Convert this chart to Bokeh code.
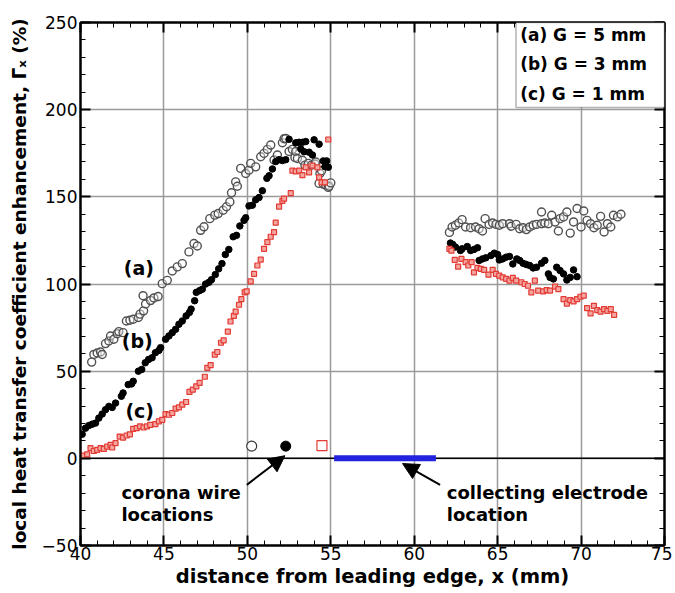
from bokeh.plotting import figure
from bokeh.models import (Range1d, SingleIntervalTicker, LinearAxis, Span, Arrow,
                          NormalHead, BoxAnnotation)
from bokeh.core.properties import value
from bokeh.embed import file_html
from bokeh.resources import INLINE

# ---------------- data ----------------
# (a) G = 5 mm : grey open circles
a_x = [40.67, 40.8, 41.0, 41.2, 41.3, 41.5, 41.7, 41.8, 42.0, 42.2, 42.3, 42.55, 42.75, 42.96, 43.16,
       43.47, 43.57, 43.78, 43.75, 43.9, 44.2, 44.4, 44.65, 44.9, 45.2, 45.5, 45.8, 46.1, 46.5, 46.8,
       47.0, 47.2, 47.4, 47.75, 48.05, 48.25, 48.55, 48.75, 48.95, 49.05, 49.3, 49.4, 49.6, 49.9, 50.1,
       50.2, 50.5, 50.8, 51.0, 51.2, 51.4, 51.6, 51.8, 52.1, 52.2, 52.3, 52.5, 52.7, 52.85, 52.9,
       53.0, 53.3, 53.45, 53.65, 53.85, 54.05, 54.1, 54.3, 54.35, 54.45, 54.55, 54.7, 54.85, 54.9, 55.0,
       62.11, 62.27, 62.47, 62.67, 62.87, 63.08, 63.38, 63.68, 63.89, 64.09, 64.25, 64.49, 64.70, 64.90,
       65.10, 65.30, 65.71, 65.81, 66.11, 66.32, 66.52, 66.72, 66.92, 67.13, 67.33, 67.63, 67.63, 67.83,
       68.04, 68.24, 68.44, 68.64, 68.74, 68.95, 69.15, 69.35, 69.55, 69.76, 70.0, 70.16, 70.36, 70.57,
       70.77, 70.97, 71.17, 71.38, 71.58, 71.78, 71.94, 72.19, 72.39]
a_y = [55.2, 59.6, 60.4, 61, 59.6, 65.8, 67.3, 70.2, 68.3, 71.5, 72.7, 72.1, 78.8, 79.2, 79.8,
       80.8, 82.7, 84.6, 93.3, 88.5, 90.5, 92, 92.8, 100.2, 102.1, 107.5, 109.8, 111.7, 118.4, 123.2,
       121.8, 130.8, 132.8, 137.5, 139.5, 140.4, 142.3, 144.3, 147.1, 152.3, 158.6, 156.1, 166.3, 163.4, 165.3,
       169.2, 167.2, 173, 174.9, 177.2, 179.7, 171.1, 174, 181, 183.3, 183.5, 176, 177.2, 172.6, 176,
       172, 171, 168.2, 169.2, 168.2, 168.8, 170, 157.7, 163.4, 165, 157.3, 156.7, 155.4, 156.1, 158,
       129.6, 132.7, 133.7, 135.0, 136.9, 132.7, 132.3, 132.7, 131.7, 130.4, 137.5, 134.2, 135.0, 134.2,
       133.7, 134.6, 134.6, 133.1, 134.2, 131.7, 132.3, 131.2, 132.7, 133.7, 134.2, 134.6, 141.3, 135.0,
       134.6, 139.4, 135.6, 130.4, 137.5, 138.5, 141.3, 129.2, 135.6, 143.3, 132.7, 141.9, 136.5, 134.6,
       132.3, 133.7, 138.8, 129.8, 134.6, 132.7, 139.4, 138.5, 140.0]

# (b) G = 3 mm : black filled circles
b_x = [40.1, 40.3, 40.5, 40.7, 40.9, 41.1, 41.3, 41.5, 41.7, 41.9, 42.1, 42.45, 42.55, 42.86, 43.06,
       43.16, 43.47, 43.67, 43.88, 44.08, 44.29, 44.49, 44.7, 44.8, 45.1, 45.3, 45.5, 45.7, 45.9, 46.1,
       46.33, 46.53, 46.63, 46.84, 46.94, 47.14, 47.3, 47.5, 47.7, 47.85, 48.08, 48.28, 48.48, 48.68, 48.89,
       49.15, 49.35, 49.55, 49.8, 49.9, 50.1, 50.3, 50.5, 50.7, 50.9, 51.17, 51.3, 51.5, 51.7, 51.9,
       52.1, 52.3, 52.5, 52.9, 53.1, 53.2, 53.3, 53.4, 53.5, 53.7, 53.9, 54.0, 54.3, 54.55, 54.65,
       54.75, 54.85,
       62.17, 62.31, 62.47, 62.77, 62.87, 63.18, 63.38, 63.58, 63.79, 63.89, 64.09, 64.29, 64.60, 64.80,
       65.0, 65.10, 65.30, 65.51, 65.71, 65.91, 66.15, 66.32, 66.52, 66.72, 66.92, 67.13, 67.33, 67.63,
       67.83, 68.04, 68.14, 68.34, 68.54, 68.74, 68.95, 69.15, 69.35, 69.55, 69.76]
b_y = [13.8, 17.3, 18.8, 19.6, 20.2, 23.1, 25.4, 27.9, 29.8, 29.2, 31.7, 35.6, 37.5, 42.3, 42.7,
       44.2, 50, 51, 54.8, 56.7, 57.7, 60.6, 61.9, 63.5, 68.3, 70.2, 72.1, 74, 76.9, 78.8,
       81.7, 83.7, 85.6, 90.4, 95.2, 96.2, 97, 100, 101, 102.5, 105.4, 108.7, 111.7, 116.9, 119.8,
       127.1, 127.9, 133.3, 136.5, 138, 144.8, 145.2, 148.3, 149.6, 153.5, 160.6, 162.1, 166, 170.2, 171.3,
       170.8, 171.3, 183, 181, 181.3, 177.5, 181.3, 175.9, 181.7, 175.6, 174, 182.7, 180.2, 170.6, 167.3,
       170.6, 167,
       123.5, 122.7, 121.2, 119.2, 120.2, 121.5, 119.2, 119.8, 120.8, 113.5, 114.4, 115.0, 116.3, 117.7,
       116.9, 113.8, 114.4, 115.4, 115.8, 111.5, 114.4, 113.5, 111.9, 111.2, 110.6, 109.2, 109.6, 111.9,
       113.5, 105.8, 103.8, 102.9, 109.6, 107.7, 105.8, 102.3, 103.8, 108.1, 104.2]

# (c) G = 1 mm : red squares
c_x = [40.2, 40.4, 40.6, 40.8, 41.0, 41.2, 41.4, 41.6, 41.8, 41.9, 42.1, 42.35, 42.55, 42.76, 42.96,
       43.16, 43.37, 43.57, 43.78, 43.98, 44.18, 44.49, 44.7, 44.9, 45.1, 45.3, 45.5, 45.7, 45.9, 46.1,
       46.33, 46.53, 46.73, 46.94, 47.14, 47.45, 47.6, 47.8, 48.05, 48.2, 48.42, 48.58, 48.83, 48.99, 49.19,
       49.3, 49.5, 49.64, 49.84, 49.96, 50.2, 50.4, 50.6, 50.8, 51.0, 51.2, 51.4, 51.6, 51.7, 51.9,
       52.1, 52.2, 52.6, 52.7, 52.9, 53.1, 53.3, 53.5, 53.7, 53.9, 54.2, 54.3, 54.45, 54.65, 54.85,
       62.11, 62.23, 62.43, 62.63, 62.83, 63.08, 63.24, 63.44, 63.58, 63.79, 63.99, 64.19, 64.45, 64.70,
       64.90, 65.10, 65.30, 65.51, 65.71, 65.91, 66.11, 66.42, 66.62, 66.82, 67.02, 67.23, 67.43, 67.73,
       67.94, 68.14, 68.44, 68.64, 68.95, 69.15, 69.35, 69.55, 69.76, 69.96, 70.16, 70.36, 70.57, 70.77,
       70.97, 71.17, 71.38, 71.58, 71.78, 71.98]
c_y = [1.5, 2.3, 5.8, 4.2, 4.8, 5.8, 5.4, 6.7, 7.7, 6.2, 8.7, 12.5, 11.9, 13.1, 13.8,
       16.9, 17.3, 18.3, 17.7, 18.3, 19.2, 19.6, 21.2, 22.1, 25.4, 25, 26, 28.5, 29.2, 30.8,
       32.3, 38.1, 39.4, 41.3, 43.3, 46.8, 51.9, 53.5, 59.5, 61, 66.3, 67.7, 72.7, 78.5, 81.7,
       84.2, 88.1, 91.3, 95.2, 95.8, 101.5, 105.8, 110.6, 114, 120.2, 124, 127.1, 129.8, 135.2, 144.4,
       147.7, 149, 152.1, 165, 164.6, 165, 162.5, 166.9, 164, 167.9, 166.9, 161.2, 158.3, 158.3, 182.9,
       120.2, 119.2, 113.8, 110.0, 114.4, 112.5, 110.6, 112.5, 106.7, 109.2, 108.7, 108.1, 105.4, 108.1,
       105.8, 104.8, 103.8, 102.9, 101.9, 103.5, 101.9, 101.0, 100.0, 99.0, 95.2, 101.9, 96.2, 95.8,
       96.5, 96.2, 98.5, 97.1, 91.3, 88.8, 90.8, 90.0, 91.3, 92.7, 93.3, 86.2, 83.1, 87.5,
       85.0, 84.2, 85.6, 84.6, 85.6, 82.3]

# corona wire locations (a, b, c)
wire_x = [50.26, 52.3, 54.47]
wire_y = [7.0, 7.0, 7.3]

# collecting electrode location
elec_x = [55.2, 61.3]
elec_y = [0, 0]

legend_lines = ["(a) G = 5 mm", "(b) G = 3 mm", "(c) G = 1 mm"]
curve_labels = ["(a)", "(b)", "(c)"]

x_ticks_interval = 5
y_ticks_interval = 50

FONT = "DejaVu Sans"

# ---------------- figure ----------------
p = figure(width=672, height=590, x_range=Range1d(40, 75), y_range=Range1d(-50, 250),
           output_backend="svg", toolbar_location=None,
           min_border_left=80, min_border_right=8, min_border_top=22, min_border_bottom=44)
p.background_fill_color = "white"
p.border_fill_color = "white"
p.outline_line_color = "black"
p.outline_line_width = 2

xt = SingleIntervalTicker(interval=x_ticks_interval, num_minor_ticks=5)
yt = SingleIntervalTicker(interval=y_ticks_interval, num_minor_ticks=5)

for ax in p.xaxis:
    ax.ticker = xt
for ax in p.yaxis:
    ax.ticker = yt

def style_axis(ax, show_labels=True):
    ax.axis_line_color = "black"
    ax.axis_line_width = 2
    ax.major_tick_in = 10
    ax.major_tick_out = 0
    ax.major_tick_line_width = 2
    ax.major_tick_line_color = "black"
    ax.minor_tick_in = 5
    ax.minor_tick_out = 0
    ax.minor_tick_line_width = 1
    ax.minor_tick_line_color = "black"
    if show_labels:
        ax.major_label_text_font = FONT
        ax.major_label_text_font_size = "17px"
        ax.major_label_text_color = "black"
    else:
        ax.major_label_text_color = None
        ax.major_label_text_font_size = "1px"
        ax.major_label_standoff = 0

style_axis(p.xaxis[0])
style_axis(p.yaxis[0])
p.xaxis[0].major_label_standoff = 1
p.yaxis[0].major_label_standoff = 3

p.xaxis[0].axis_label = "distance from leading edge, x (mm)"
p.yaxis[0].axis_label = "local heat transfer coefficient enhancement, \u0393\u2093 (%)"
for ax in (p.xaxis[0], p.yaxis[0]):
    ax.axis_label_text_font = FONT
    ax.axis_label_text_font_style = "bold"
    ax.axis_label_text_color = "black"
p.xaxis[0].axis_label_text_font_size = "19.5px"
p.yaxis[0].axis_label_text_font_size = "18.5px"
p.xaxis[0].axis_label_standoff = 2
p.yaxis[0].axis_label_standoff = 9

top_ax = LinearAxis(ticker=xt)
right_ax = LinearAxis(ticker=yt)
style_axis(top_ax, False)
style_axis(right_ax, False)
p.add_layout(top_ax, "above")
p.add_layout(right_ax, "right")

p.xgrid.ticker = xt
p.ygrid.ticker = yt
for g in (p.xgrid[0], p.ygrid[0]):
    g.grid_line_color = "#9a9a9a"
    g.grid_line_width = 1.5

# zero line (beneath the data marks and the electrode bar)
p.add_layout(Span(location=0, dimension="width", line_color="black", line_width=1.5,
                  level="underlay"))

# ---------------- data marks ----------------
p.scatter(a_x, a_y, marker="circle", size=8, line_color="#505050", line_width=1.4,
          fill_color="white", fill_alpha=0.4)
p.scatter(b_x, b_y, marker="circle", size=6.5, line_color="black", fill_color="black")
p.scatter(c_x, c_y, marker="square", size=5, line_color="#e33a33", line_width=1.2,
          fill_color="#f3a5a0")

# electrode
p.line(elec_x, elec_y, line_color="#2222e0", line_width=6)

# wire markers
p.scatter([wire_x[0]], [wire_y[0]], marker="circle", size=10, line_color="#333333",
          line_width=1.2, fill_color="white")
p.scatter([wire_x[1]], [wire_y[1]], marker="circle", size=10, line_color="black",
          fill_color="black")
p.scatter([wire_x[2]], [wire_y[2]], marker="square", size=10, line_color="#e33a33",
          line_width=1.2, fill_color="white")

# arrows
p.add_layout(Arrow(end=NormalHead(size=16, fill_color="black", line_color="black"),
                   x_start=49.97, y_start=-15.2, x_end=52.25, y_end=1.5,
                   line_width=2, line_color="black"))
p.add_layout(Arrow(end=NormalHead(size=16, fill_color="black", line_color="black"),
                   x_start=61.55, y_start=-15.2, x_end=59.3, y_end=-3.0,
                   line_width=2, line_color="black"))

# annotation texts
p.text(x=[42.45, 42.45], y=[-19.5, -32.5], text=["corona wire", "locations"],
       text_font=value(FONT), text_font_style="bold", text_font_size="18px",
       text_baseline="middle", text_align="left", text_color="black")
p.text(x=[61.95, 61.95], y=[-19.5, -32.5], text=["collecting electrode", "location"],
       text_font=value(FONT), text_font_style="bold", text_font_size="18px",
       text_baseline="middle", text_align="left", text_color="black")

p.text(x=[43.5, 43.4, 43.55], y=[108.9, 67.3, 27.0], text=curve_labels,
       text_font=value(FONT), text_font_style="bold", text_font_size="19px",
       text_baseline="middle", text_align="center", text_color="black")

# legend box
p.add_layout(BoxAnnotation(left=66.1, right=75, bottom=201.2, top=250,
                           fill_color="white", fill_alpha=1.0,
                           line_color="black", line_width=1.5))
p.text(x=[66.35] * 3, y=[243.0, 226.0, 209.0], text=legend_lines,
       text_font=value(FONT), text_font_style="bold", text_font_size="17px",
       text_baseline="middle", text_align="left", text_color="black", level="overlay")

open("out.html", "w").write(file_html(p, INLINE))
